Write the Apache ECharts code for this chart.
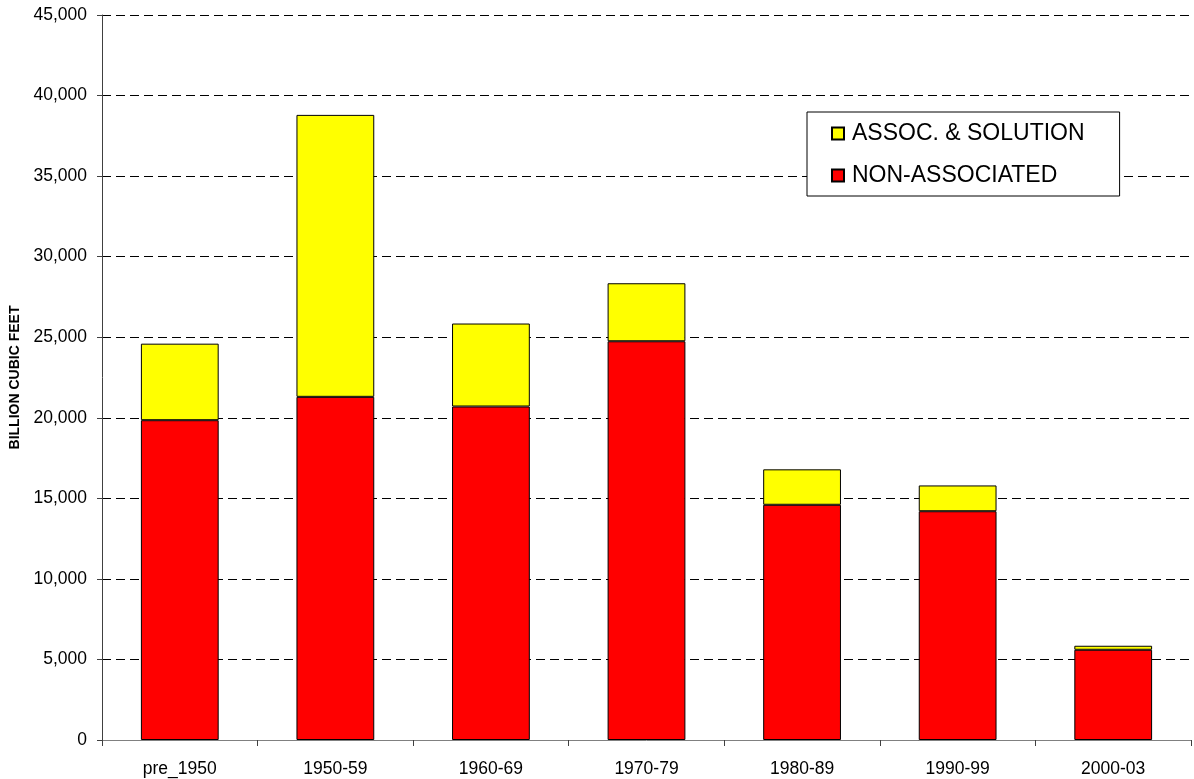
<!DOCTYPE html>
<html>
<head>
<meta charset="utf-8">
<script src="https://cdn.jsdelivr.net/npm/echarts@6/dist/echarts.min.js"></script>
<style>
  html, body { margin: 0; padding: 0; background: #fff; }
  #chart { width: 1194px; height: 779px; }
</style>
</head>
<body>
<div id="chart"></div>
<script>
// Decades of discovery
const categories = ['pre_1950', '1950-59', '1960-69', '1970-79', '1980-89', '1990-99', '2000-03'];
// Billion cubic feet, non-associated gas
const nonAssociated = [19850, 21300, 20700, 24750, 14600, 14200, 5600];
// Billion cubic feet, associated & solution gas (stacked on top)
const assocSolution = [4750, 17500, 5150, 3600, 2200, 1600, 250];
// Y axis range
const yMin = 0, yMax = 45000, yStep = 5000;

const FONT = '"Liberation Sans", Arial, sans-serif';

const chart = echarts.init(document.getElementById('chart'), null, { renderer: 'canvas' });

chart.setOption({
  animation: false,
  backgroundColor: '#ffffff',
  textStyle: { fontFamily: FONT },
  grid: { left: 102, right: 3, top: 15, bottom: 39, containLabel: false },
  legend: {
    orient: 'vertical',
    left: 807,
    top: 112,
    data: ['ASSOC. & SOLUTION', 'NON-ASSOCIATED'],
    icon: 'rect',
    itemWidth: 12,
    itemHeight: 12,
    itemGap: 19,
    padding: [10, 35, 9, 24],
    borderColor: '#000',
    borderWidth: 1,
    backgroundColor: '#fff',
    textStyle: { fontFamily: FONT, fontSize: 23, color: '#000', padding: [0, 0, 0, 3] }
  },
  xAxis: {
    type: 'category',
    data: categories,
    axisLine: { lineStyle: { color: '#808080', width: 1 } },
    axisTick: { show: true, length: 6, lineStyle: { color: '#404040' } },
    axisLabel: { color: '#000', fontSize: 17.5, fontFamily: FONT, margin: 20 },
    splitLine: { show: false }
  },
  yAxis: {
    type: 'value',
    min: yMin,
    max: yMax,
    interval: yStep,
    name: 'BILLION CUBIC FEET',
    nameLocation: 'middle',
    nameGap: 78,
    nameRotate: 90,
    nameTextStyle: { fontFamily: FONT, fontSize: 14, fontWeight: 'bold', color: '#000' },
    axisLine: { show: true, lineStyle: { color: '#404040', width: 1 } },
    axisTick: { show: true, length: 5, lineStyle: { color: '#404040' } },
    axisLabel: {
      color: '#000', fontSize: 17.5, fontFamily: FONT, margin: 15,
      formatter: v => v.toLocaleString('en-US')
    },
    splitLine: { show: true, lineStyle: { color: '#000', width: 1, type: [9, 5] } }
  },
  series: [
    {
      name: 'NON-ASSOCIATED',
      type: 'bar',
      stack: 'total',
      data: nonAssociated,
      barWidth: '50%',
      itemStyle: { color: '#ff0000', borderColor: '#000', borderWidth: 1 }
    },
    {
      name: 'ASSOC. & SOLUTION',
      type: 'bar',
      stack: 'total',
      data: assocSolution,
      barWidth: '50%',
      itemStyle: { color: '#ffff00', borderColor: '#000', borderWidth: 1 }
    }
  ]
});
</script>
</body>
</html>
